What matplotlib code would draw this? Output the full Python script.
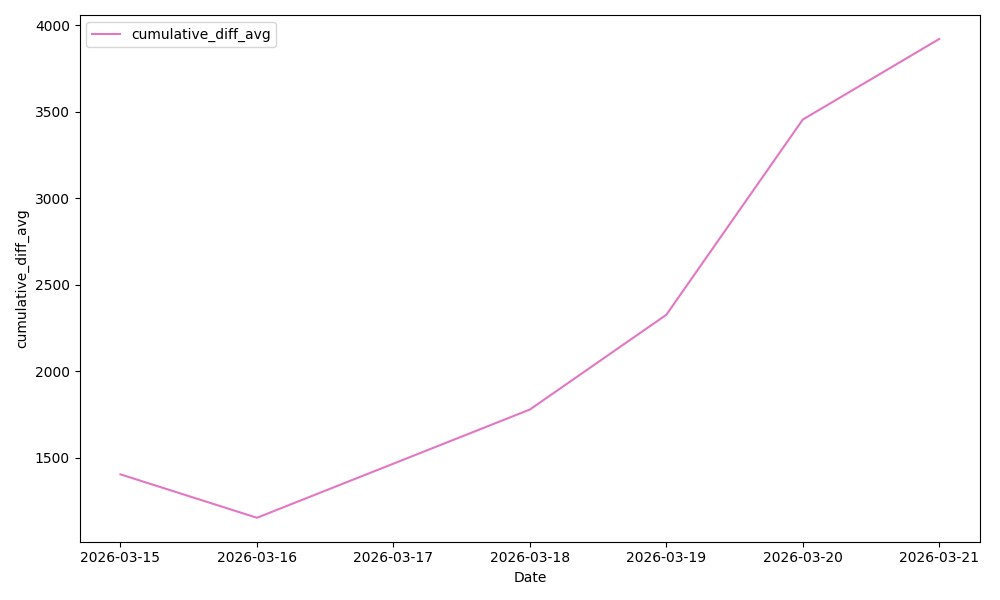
import pandas as pd
import matplotlib
matplotlib.use("Agg")
import matplotlib.pyplot as plt
import matplotlib.dates as mdates

dates = ["2026-03-15", "2026-03-16", "2026-03-18", "2026-03-19", "2026-03-20", "2026-03-21"]
cumulative_diff_avg = [1403, 1152, 1778, 2326, 3455, 3921]

df = pd.DataFrame({"Date": pd.to_datetime(dates), "cumulative_diff_avg": cumulative_diff_avg})

fig, ax = plt.subplots(figsize=(10, 6), dpi=100)
ax.plot(df.Date, df.cumulative_diff_avg, color="#e377c2", label="cumulative_diff_avg")
ax.xaxis.set_major_locator(mdates.DayLocator())
ax.xaxis.set_major_formatter(mdates.DateFormatter("%Y-%m-%d"))
ax.set_xlabel("Date")
ax.set_ylabel("cumulative_diff_avg")
ax.legend(loc="upper left")
fig.tight_layout()
fig.savefig("out.png")
